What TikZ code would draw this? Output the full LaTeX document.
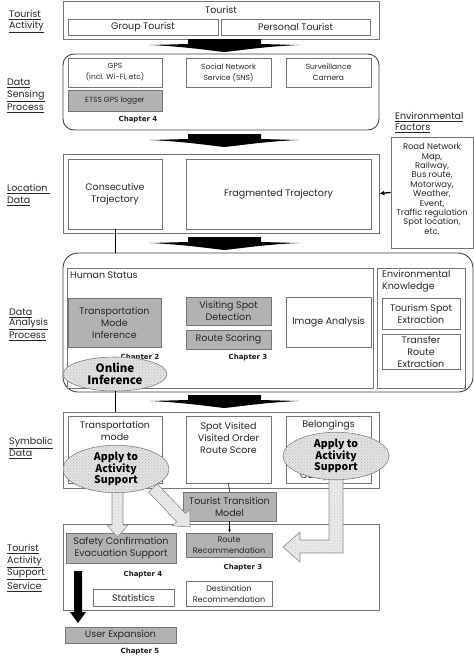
\documentclass[tikz,border=0pt]{standalone}
\usepackage{fontspec}
\setmainfont{Poppins}
\newfontfamily\jpfont{Noto Sans CJK JP}
\newfontfamily\chapfont{DejaVu Sans}
\usetikzlibrary{patterns,arrows.meta,shapes.geometric}
\newcommand\fs[2]{\fontsize{#1}{#2}\selectfont}
\newcommand\blockdown[2]{%
  \fill[black] (#1-36.5,#2) -- (#1+36.5,#2) -- (#1+36.5,#2+5) -- (#1+74.5,#2+6)
    .. controls (#1+40,#2+7.5) and (#1+15,#2+11.5) .. (#1,#2+13)
    .. controls (#1-15,#2+11.5) and (#1-40,#2+7.5) .. (#1-74.5,#2+6)
    -- (#1-36.5,#2+5) -- cycle;}
\tikzset{
  bx/.style={draw=black!55, line width=0.7pt, inner sep=0pt, align=center, text=black!85, font=\fs{9.5}{12}},
  gbx/.style={bx, fill=gray!60},
  rbx/.style={bx, rounded corners=11pt, line width=0.9pt, draw=black!75},
  txt/.style={inner sep=0pt, align=center, text=black!85, font=\fs{9.5}{12}},
  small/.style={font=\fs{7.5}{11}},
  lbl/.style={anchor=west, inner sep=0pt, text=black!85, font=\fs{9.5}{12}},
  chap/.style={inner sep=0pt, text=black!90, font=\chapfont\bfseries\fs{7}{8}},
  bubble/.style={ellipse, draw=black!50, line width=0.6pt, inner sep=0pt, align=center,
    preaction={fill=gray!22}, pattern=crosshatch dots, pattern color=gray!55,
    font=\jpfont\bfseries\fs{10.5}{11.5}, text=black},
  larrow/.style={draw=black!45, line width=0.6pt, preaction={fill=gray!16},
    pattern=crosshatch dots, pattern color=gray!40},
}
\begin{document}
\begin{tikzpicture}[x=1pt,y=-1pt]
\useasboundingbox (0,0) rectangle (474,662);
\fill[white] (0,0) rectangle (474,662);

% left labels
\node[lbl] (l1a) at (9,15) {\underline{Tourist}};
\node[lbl] (l1b) at (9,27) {\underline{Activity}};
\node[lbl] (l2a) at (7,83) {\underline{Data}};
\node[lbl] (l2b) at (7,96) {\underline{Sensing}};
\node[lbl] (l2c) at (7,108) {\underline{Process}};
\node[lbl] (l3a) at (7,189) {\underline{Location\ }};
\node[lbl] (l3b) at (7,201) {\underline{Data}};
\node[lbl] (l4a) at (9,313) {\underline{Data}};
\node[lbl] (l4b) at (9,324) {\underline{Analysis}};
\node[lbl] (l4c) at (9,336) {\underline{Process}};
\node[lbl] (l5a) at (9,443) {\underline{Symbolic}};
\node[lbl] (l5b) at (9,454) {\underline{Data}};
\node[lbl] (l6a) at (7,549) {\underline{Tourist}};
\node[lbl] (l6b) at (7,562) {\underline{Activity}};
\node[lbl] (l6c) at (7,574) {\underline{Support\ }};
\node[lbl] (l6d) at (7,587) {\underline{Service}};
\node[lbl] (efa) at (395,117) {\underline{Environmental}};
\node[lbl] (efb) at (395,128) {\underline{Factors}};

% Tourist activity
\node[bx, minimum width=316pt, minimum height=37.5pt] (tourist) at (221,20.25) {};
\node[txt] (touristt) at (221,10) {Tourist};
\node[bx, minimum width=150pt, minimum height=16pt] (group) at (143,27) {Group Tourist};
\node[bx, minimum width=149pt, minimum height=16pt] (personal) at (295.5,27) {Personal Tourist};
\blockdown{224.5}{39}

% Data sensing
\node[rbx, minimum width=316pt, minimum height=76pt] (sensing) at (221,92) {};
\node[bx, small, minimum width=94pt, minimum height=29pt] (gps) at (115,72.5) {GPS\\(incl. Wi-Fi, etc)};
\node[bx, small, minimum width=85pt, minimum height=29pt] (sns) at (228.5,72.5) {Social Network\\Service (SNS)};
\node[bx, small, minimum width=85pt, minimum height=29pt] (cam) at (328.5,72.5) {Surveillance\\Camera};
\node[gbx, small, minimum width=94pt, minimum height=21pt] (etss) at (115,100.5) {ETSS GPS logger};
\node[chap] (ch4a) at (138,120) {Chapter 4};
\blockdown{224.5}{134}

% Environmental factors
\node[bx, minimum width=82pt, minimum height=111pt] (env) at (432,192.5) {};
\node[txt, font=\fs{8.4}{9.4}] (envt) at (432,189) {Road Network\\Map,\\Railway,\\Bus route,\\Motorway,\\Weather,\\Event,\\Traffic regulation\\Spot location,\\etc.};

% Location data
\node[bx, minimum width=316pt, minimum height=79pt] (loc) at (221,193.5) {};
\node[bx, minimum width=94pt, minimum height=70pt] (consec) at (115,194) {Consecutive\\Trajectory};
\node[bx, minimum width=185pt, minimum height=70pt] (frag) at (278.5,194) {Fragmented Trajectory};
\draw[-{Latex[length=5pt,width=5pt]}, line width=1.3pt] (env.west) -- (loc.east);
\blockdown{224.5}{237}

% Data analysis
\node[rbx, rounded corners=15pt, minimum width=410pt, minimum height=139pt] (analysis) at (268,322.5) {};
\coordinate (antop) at (115,253);
\draw[line width=0.7pt] (consec.south) -- (antop);
\node[bx, minimum width=306pt, minimum height=120pt] (human) at (220,328) {};
\node[txt, anchor=west] (humant) at (70,275) {Human Status};
\node[bx, minimum width=88pt, minimum height=120pt] (envk) at (421,328) {};
\node[txt, anchor=west, align=left] (envkt) at (382,281) {Environmental\\Knowledge};
\node[gbx, minimum width=93pt, minimum height=49pt] (tmi) at (114.5,322.5) {Transportation\\Mode\\Inference};
\node[gbx, minimum width=85pt, minimum height=28pt] (vsd) at (228.5,311) {Visiting Spot\\Detection};
\node[gbx, minimum width=85pt, minimum height=19pt] (rs) at (228.5,339.5) {Route Scoring};
\node[bx, minimum width=85pt, minimum height=50pt] (ia) at (328.5,322) {Image Analysis};
\node[bx, minimum width=78pt, minimum height=31pt] (tse) at (421,313.5) {Tourism Spot\\Extraction};
\node[bx, minimum width=78pt, minimum height=35pt] (tre) at (421,351.5) {Transfer\\Route\\Extraction};
\node[chap] (ch2) at (140,358) {Chapter 2};
\node[chap] (ch3a) at (248,358) {Chapter 3};
\node[bubble, minimum width=104pt, minimum height=34pt, font=\jpfont\bfseries\fs{11.5}{12.5}] (online) at (115,374) {Online\\Inference};
\blockdown{224.5}{395}

% Symbolic data
\node[bx, minimum width=316pt, minimum height=76pt] (sym) at (221,450) {};
\draw[line width=0.7pt] (online.south) -- (online.south |- sym.north);
\node[bx, minimum width=94pt, minimum height=67pt] (tm) at (115,449.5) {};
\node[txt] (tmt) at (115,431) {Transportation\\mode};
\node[bx, minimum width=85pt, minimum height=67pt] (sv) at (228.5,449.5) {};
\node[txt] (svt) at (228.5,437.5) {Spot Visited\\Visited Order\\Route Score};
\node[bx, minimum width=85pt, minimum height=67pt] (bel) at (328.5,449.5) {};
\node[txt] (belt) at (328.5,425) {Belongings};
\node[txt] (belt3) at (328.5,476) {Companion};
\node[gbx, minimum width=93pt, minimum height=29pt] (ttm) at (229.5,506.5) {Tourist Transition\\Model};
\draw[line width=0.6pt] (sv.south) -- (ttm.north);

% Support service
\node[bx, minimum width=316pt, minimum height=86pt] (support) at (221,567) {};
\node[gbx, minimum width=110pt, minimum height=30pt] (safety) at (121,548) {Safety Confirmation\\Evacuation Support};
\node[gbx, small, font=\fs{8}{11}, minimum width=86pt, minimum height=24pt] (rr) at (229,545) {Route\\Recommendation};
\draw[-{Latex[length=3pt,width=3pt]}, line width=0.6pt] (ttm.south) -- (ttm.south |- rr.north);
\node[chap] (ch3b) at (243,568) {Chapter 3};
\node[chap] (ch4b) at (143,575) {Chapter 4};
\node[bx, minimum width=81pt, minimum height=17pt] (stat) at (133.5,597.5) {Statistics};
\node[bx, font=\fs{8}{11}, minimum width=86pt, minimum height=25pt] (dr) at (229,593.5) {Destination\\Recommendation};
\node[gbx, minimum width=111pt, minimum height=16pt] (ue) at (120.5,635) {User Expansion};
\node[chap] (ch5) at (140,652) {Chapter 5};
\coordinate (bka) at (78,571);
\coordinate (bkb) at (78,623);
\fill[black] (74,571) -- (82,571) -- (82,612) -- (86,612) -- (bkb) -- (70,612) -- (74,612) -- cycle;

% light block arrows
\path[larrow] (112,489) -- (123,489) -- (123,525) -- (128,525) -- (117.5,537) -- (107,525) -- (112,525) -- cycle;
\path[larrow] (157.35,483.87) -- (185.41,513.45) -- (189.76,509.32) -- (190,527) -- (172.36,525.84) -- (176.71,521.71) -- (148.65,492.13) -- cycle;
\path[larrow] (329,476) -- (343,476) -- (343,553) -- (300,553) -- (300,562) -- (283,547) -- (300,532) -- (300,540) -- (329,540) -- cycle;

% bubbles
\node[bubble, minimum width=106pt, minimum height=42pt] (apply1) at (116,469) {Apply to\\Activity\\Support};
\node[bubble, minimum width=106pt, minimum height=42pt] (apply2) at (336,456) {Apply to\\Activity\\Support};
\end{tikzpicture}
\end{document}
